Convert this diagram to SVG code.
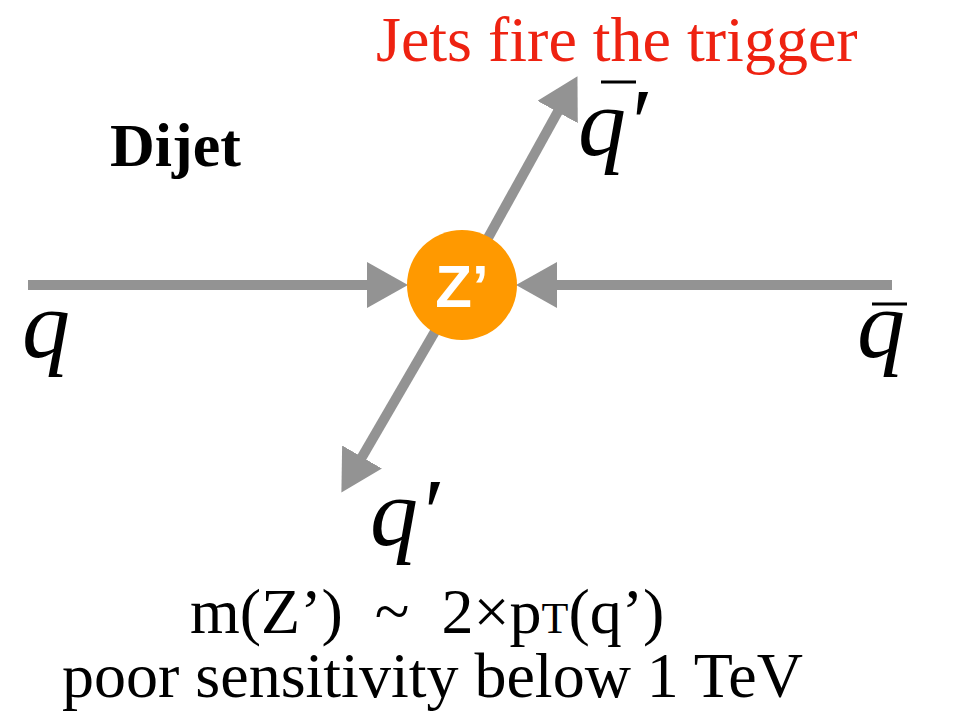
<svg xmlns="http://www.w3.org/2000/svg" width="978" height="714" viewBox="0 0 978 714">
  <style>
    .conn { stroke: #939393; stroke-width: 10; fill: none; }
    .math { font-family: "Liberation Serif", "Times New Roman", serif; font-style: italic; font-size: 96px; fill: #000; }
    .bar { stroke: #000; stroke-width: 3; }
    .serif { font-family: "Liberation Serif", "Times New Roman", serif; fill: #000; }
  </style>
  <defs>
    <marker id="ah" markerUnits="userSpaceOnUse" markerWidth="42" markerHeight="46" viewBox="0 0 42 46" refX="2" refY="23" orient="auto">
      <path d="M0,0 L41,23 L0,46 z" fill="#939393"/>
    </marker>
  </defs>

  <g id="connectors">
    <line class="conn" x1="28" y1="285" x2="369" y2="285" marker-end="url(#ah)"/>
    <line class="conn" x1="892" y1="285" x2="555" y2="285" marker-end="url(#ah)"/>
    <line class="conn" x1="462" y1="285" x2="558.6" y2="110.3" marker-end="url(#ah)"/>
    <line class="conn" x1="462" y1="285" x2="361" y2="458.7" marker-end="url(#ah)"/>
  </g>

  <g id="zprime">
    <circle cx="462" cy="285" r="55" fill="#ff9900"/>
    <text x="462" y="307" text-anchor="middle" font-family="Liberation Sans, Arial, sans-serif" font-weight="bold" font-size="60" fill="#fff">Z’</text>
  </g>

  <g id="title">
    <text x="376" y="61" class="serif" font-size="64" fill="#ee2211" style="fill:#ee2211">Jets fire the trigger</text>
  </g>

  <g id="dijet">
    <text x="110" y="166" class="serif" font-size="62" font-weight="bold">Dijet</text>
  </g>

  <g id="q-in">
    <text x="22" y="357" class="math">q</text>
  </g>
  <g id="qbar-in">
    <text x="857" y="357" class="math">q</text>
    <line class="bar" x1="872" y1="304" x2="907" y2="304"/>
  </g>
  <g id="qbarprime-out">
    <text x="578" y="155" class="math">q′</text>
    <line class="bar" x1="601" y1="82" x2="636" y2="82"/>
  </g>
  <g id="qprime-out">
    <text x="370" y="545" class="math">q′</text>
  </g>

  <g id="caption">
    <text x="190" y="633" class="serif" font-size="64" xml:space="preserve">m(Z’)  ~  2×p<tspan font-size="44">T</tspan>(q’)</text>
    <text x="62" y="697" class="serif" font-size="64">poor sensitivity below 1 TeV</text>
  </g>
</svg>
